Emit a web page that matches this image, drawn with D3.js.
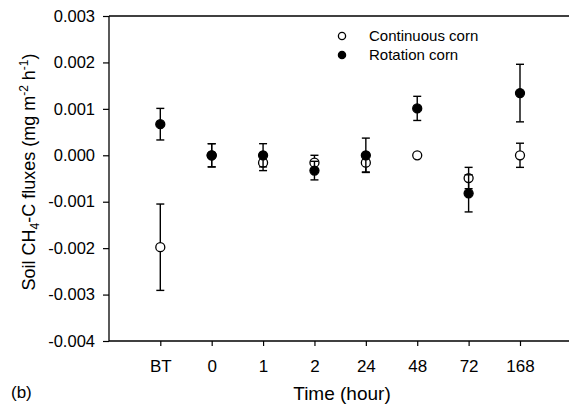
<!DOCTYPE html>
<html><head><meta charset="utf-8">
<script src="https://cdn.jsdelivr.net/npm/d3@7"></script>
<style>body{margin:0;background:#fff}svg{display:block;font-family:Arial,"Liberation Sans",sans-serif}</style>
</head><body><svg id="c" width="569" height="404"></svg>
<script>
const categories = ["BT","0","1","2","24","48","72","168"];
const continuousMean = [-0.00198, 0, -0.00016, -0.00016, -0.00016, 0, -0.00049, 0];
const continuousErr  = [0.00093, 0.00025, 0.00017, 0.00016, 0.0002, 0, 0.00023, 0.00026];
const rotationMean   = [0.00067, 0, 0, -0.00033, 0, 0.00101, -0.00082, 0.00134];
const rotationErr    = [0.00034, 0.00025, 0.00025, 0.0002, 0.00037, 0.00026, 0.0004, 0.00062];
const yTicks = [0.003,0.002,0.001,0,-0.001,-0.002,-0.003,-0.004];

const svg = d3.select("#c");
const L=109, R=569, T=16, B=341;
const FF = "Arial, Liberation Sans, sans-serif";
const x = d3.scalePoint().domain(categories).range([160.3, 520]);
const y = d3.scaleLinear().domain([-0.004, 0.003]).range([B, T]);

svg.append("line").attr("x1",L).attr("x2",R).attr("y1",T).attr("y2",T).attr("stroke","#000").attr("stroke-width",1.3);

const yAxis = svg.append("g").attr("transform",`translate(${L},0)`)
  .call(d3.axisLeft(y).tickValues(yTicks).tickSize(6).tickPadding(8));
yAxis.select(".domain").attr("d",`M0,${T}V${B}`).attr("stroke-width",1.3);
yAxis.selectAll("line").attr("stroke-width",1.2);
yAxis.selectAll("text").attr("font-size",16.5).attr("fill","#000").attr("font-family",FF)
  .text(d=> d<0 ? "-"+d3.format(".3f")(-d) : d3.format(".3f")(d));

const xAxis = svg.append("g").attr("transform",`translate(0,${B})`)
  .call(d3.axisBottom(x).tickSize(5).tickPadding(14));
xAxis.select(".domain").attr("d",`M${L},0H${R}`).attr("stroke-width",1.3);
xAxis.selectAll("line").attr("stroke-width",1.2);
xAxis.selectAll("text").attr("font-size",17).attr("fill","#000").attr("font-family",FF);

function series(mean, err, fill){
  const g = svg.append("g");
  categories.forEach((c,i)=>{
    const cx = x(c), e = err[i], m = mean[i];
    if(e>0){
      g.append("line").attr("x1",cx).attr("x2",cx).attr("y1",y(m+e)).attr("y2",y(m-e)).attr("stroke","#000").attr("stroke-width",1.4);
      [m+e,m-e].forEach(v=>g.append("line").attr("x1",cx-4).attr("x2",cx+4).attr("y1",y(v)).attr("y2",y(v)).attr("stroke","#000").attr("stroke-width",1.4));
    }
  });
  g.selectAll("circle").data(mean).join("circle")
    .attr("cx",(d,i)=>x(categories[i])).attr("cy",d=>y(d)).attr("r",4.5)
    .attr("fill",fill).attr("stroke","#000").attr("stroke-width",1.3);
}
series(continuousMean, continuousErr, "#fff");
series(rotationMean, rotationErr, "#000");

const leg = svg.append("g");
[["Continuous corn","#fff",36],["Rotation corn","#000",55]].forEach(([t,f,yy])=>{
  leg.append("circle").attr("cx",342).attr("cy",yy).attr("r",3.6).attr("fill",f).attr("stroke","#000").attr("stroke-width",1.3);
  leg.append("text").attr("x",369).attr("y",yy).attr("dy","0.35em").attr("font-size",15).text(t);
});

svg.append("text").attr("x",342).attr("y",400).attr("text-anchor","middle").attr("font-size",19).text("Time (hour)");
const yt = svg.append("text").attr("transform","translate(35,172) rotate(-90)").attr("text-anchor","middle").attr("font-size",18);
yt.append("tspan").text("Soil CH");
yt.append("tspan").attr("font-size",12).attr("dy",4).text("4");
yt.append("tspan").attr("dy",-4).text("-C fluxes (mg m");
yt.append("tspan").attr("font-size",12).attr("dy",-7).text("-2");
yt.append("tspan").attr("dy",7).text(" h");
yt.append("tspan").attr("font-size",12).attr("dy",-7).text("-1");
yt.append("tspan").attr("dy",7).text(")");

svg.append("text").attr("x",11).attr("y",398).attr("font-size",17).text("(b)");
</script></body></html>
